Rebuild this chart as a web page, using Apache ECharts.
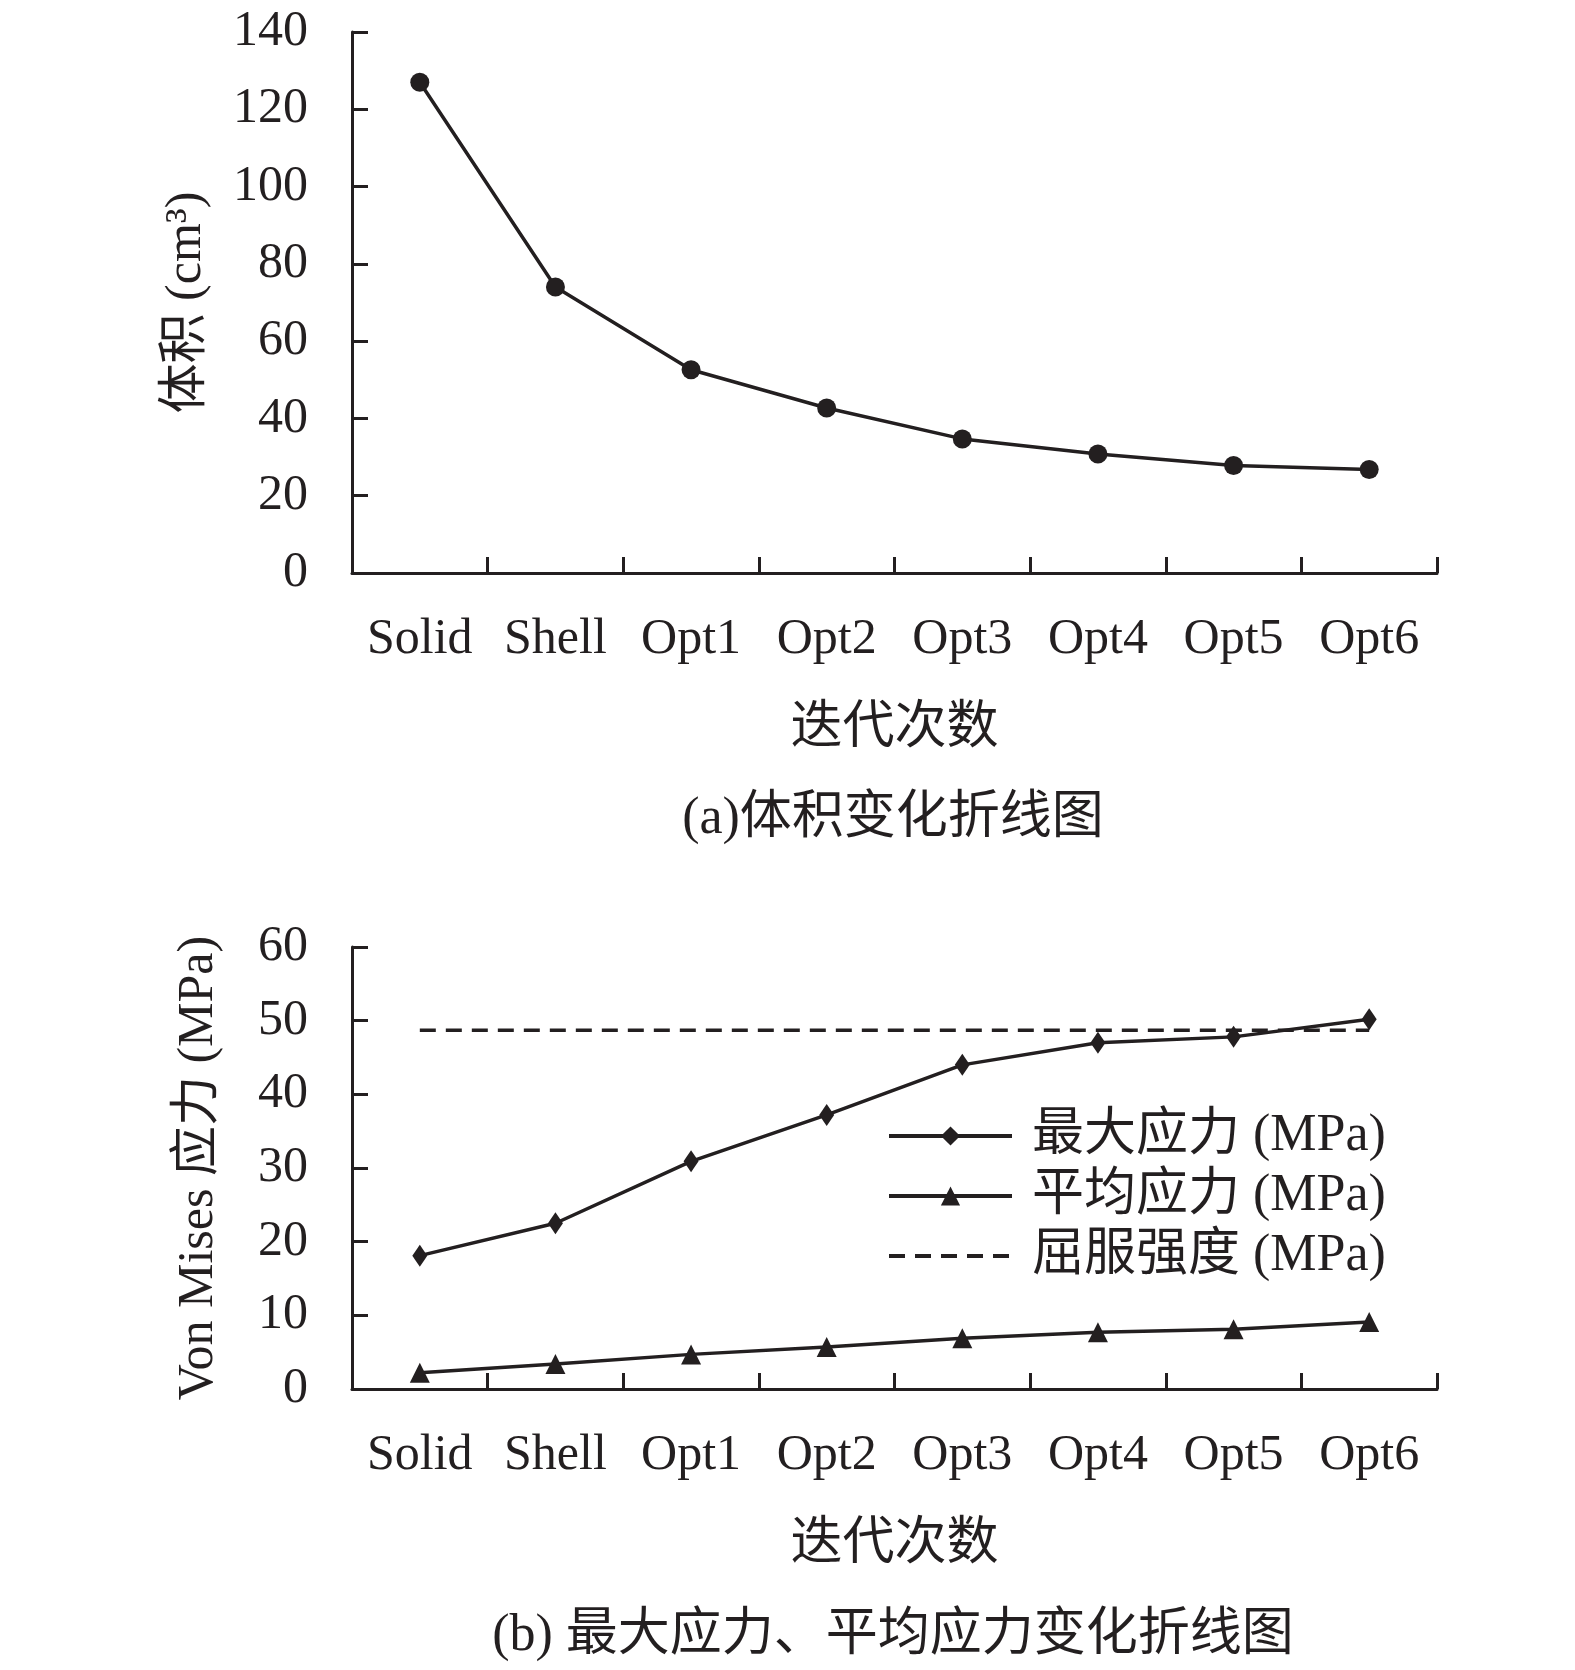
<!DOCTYPE html>
<html>
<head>
<meta charset="utf-8">
<script src="https://cdn.jsdelivr.net/npm/echarts@6/dist/echarts.min.js"></script>
<style>
  html, body { margin: 0; padding: 0; background: #fff; }
  #chart { width: 1575px; height: 1670px; }
</style>
</head>
<body>
<div id="chart"></div>
<script>
const categories = ["Solid", "Shell", "Opt1", "Opt2", "Opt3", "Opt4", "Opt5", "Opt6"];
const volume = [127, 74, 52.6, 42.7, 34.7, 30.8, 27.8, 26.8];
const maxStress = [18.1, 22.5, 30.9, 37.2, 44.0, 47.0, 47.8, 50.2];
const avgStress = [2.2, 3.4, 4.7, 5.7, 6.9, 7.7, 8.1, 9.1];
const yieldStrength = [48.7, 48.7, 48.7, 48.7, 48.7, 48.7, 48.7, 48.7];

const ink = "#231f20";
const fontFamily = '"Liberation Serif", "Noto Sans CJK SC", serif';

const chart = echarts.init(document.getElementById("chart"));

const xAxisBase = {
  type: "category",
  data: categories,
  boundaryGap: true,
  nameLocation: "middle",
  nameGap: 130,
  nameTextStyle: { fontSize: 52, color: ink, fontFamily },
  axisLine: { show: true, lineStyle: { color: ink, width: 3 } },
  axisTick: { show: true, inside: true, interval: 0, length: 16, lineStyle: { color: ink, width: 3 } },
  axisLabel: { interval: 0, fontSize: 50, color: ink, fontFamily, margin: 42 },
  splitLine: { show: false },
};

const yAxisBase = {
  type: "value",
  min: 0,
  nameLocation: "middle",
  nameTextStyle: { fontSize: 50, color: ink, fontFamily },
  axisLine: { show: true, lineStyle: { color: ink, width: 3 } },
  axisTick: { show: true, inside: true, length: 16, lineStyle: { color: ink, width: 3 } },
  axisLabel: { fontSize: 50, color: ink, fontFamily, margin: 44 },
  splitLine: { show: false },
};

const option = {
  backgroundColor: "#fff",
  animation: false,
  title: [
    {
      text: "(a)体积变化折线图",
      left: 888,
      top: 788,
      textAlign: "center",
      textStyle: { fontSize: 52, fontWeight: "normal", color: ink, fontFamily },
    },
    {
      text: "(b) 最大应力、平均应力变化折线图",
      left: 888,
      top: 1605,
      textAlign: "center",
      textStyle: { fontSize: 52, fontWeight: "normal", color: ink, fontFamily },
    },
  ],
  legend: {
    orient: "vertical",
    left: 882,
    top: 1105,
    itemWidth: 123,
    itemHeight: 24,
    itemGap: 8,
    lineStyle: { width: 4 },
    data: [
      "最大应力 (MPa)",
      "平均应力 (MPa)",
      { name: "屈服强度 (MPa)", itemStyle: { color: "rgba(0,0,0,0)", borderWidth: 0 } },
    ],
    textStyle: { fontSize: 52, color: ink, fontFamily, padding: [0, 0, 0, 15] },
  },
  grid: [
    { left: 352, right: 138, top: 32, height: 541 },
    { left: 352, right: 138, top: 947, height: 442 },
  ],
  xAxis: [
    Object.assign({}, xAxisBase, { gridIndex: 0, name: "迭代次数" }),
    Object.assign({}, xAxisBase, { gridIndex: 1, name: "迭代次数" }),
  ],
  yAxis: [
    Object.assign({}, yAxisBase, {
      gridIndex: 0, max: 140, interval: 20, name: "体积 (cm³)", nameGap: 140,
    }),
    Object.assign({}, yAxisBase, {
      gridIndex: 1, max: 60, interval: 10, name: "Von Mises 应力 (MPa)", nameGap: 128,
    }),
  ],
  series: [
    {
      name: "体积",
      type: "line",
      xAxisIndex: 0,
      yAxisIndex: 0,
      data: volume,
      symbol: "circle",
      symbolSize: 19,
      itemStyle: { color: ink },
      lineStyle: { color: ink, width: 3.5 },
    },
    {
      name: "最大应力 (MPa)",
      type: "line",
      xAxisIndex: 1,
      yAxisIndex: 1,
      data: maxStress,
      symbol: "diamond",
      symbolSize: [15, 22],
      itemStyle: { color: ink },
      lineStyle: { color: ink, width: 3.5 },
    },
    {
      name: "平均应力 (MPa)",
      type: "line",
      xAxisIndex: 1,
      yAxisIndex: 1,
      data: avgStress,
      symbol: "triangle",
      symbolSize: 20,
      itemStyle: { color: ink },
      lineStyle: { color: ink, width: 3.5 },
    },
    {
      name: "屈服强度 (MPa)",
      type: "line",
      xAxisIndex: 1,
      yAxisIndex: 1,
      data: yieldStrength,
      symbol: "none",
      itemStyle: { color: ink },
      lineStyle: { color: ink, width: 3.5, type: [16, 10] },
      z: 1,
    },
  ],
};

chart.setOption(option);
</script>
</body>
</html>
